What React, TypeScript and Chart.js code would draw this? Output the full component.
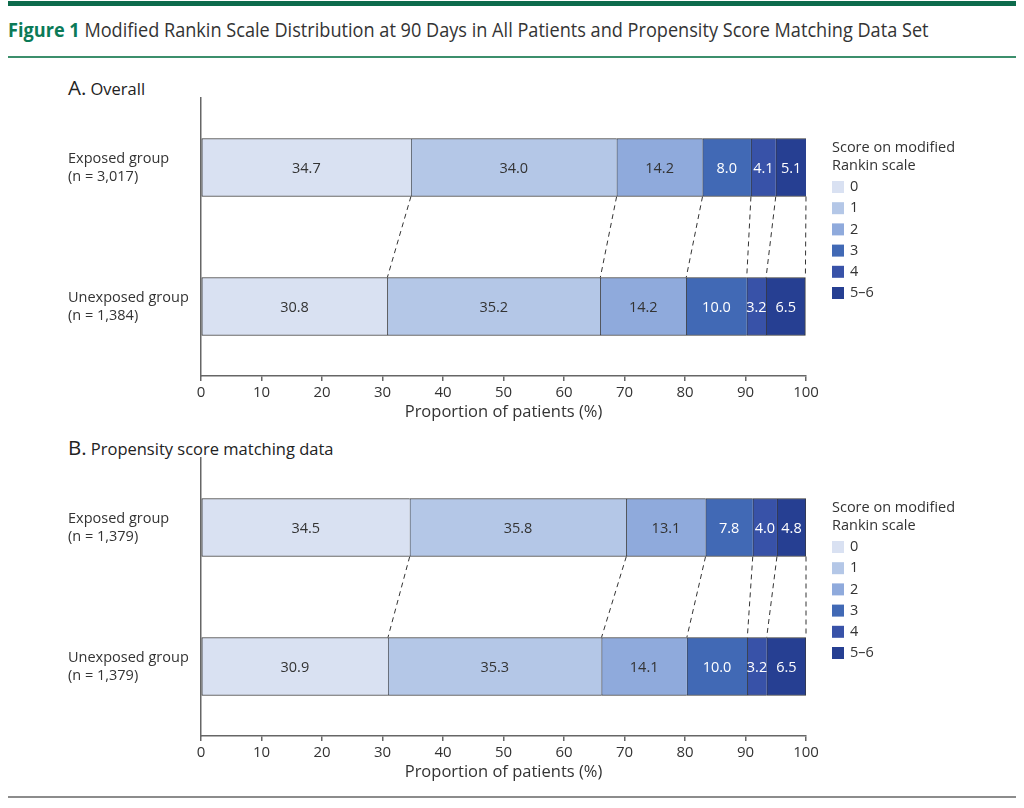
import React, { useEffect, useRef } from "react";
import { Chart, registerables } from "chart.js";

Chart.register(...registerables);

const FONT = "'Open Sans', 'Noto Sans', sans-serif";

const SCORE_LABELS = ["0", "1", "2", "3", "4", "5–6"];
const SCORE_COLORS = ["#d9e1f2", "#b4c7e7", "#8faadc", "#4169b5", "#3852a8", "#263f92"];
const VALUE_TEXT_COLORS = ["#333333", "#333333", "#333333", "#ffffff", "#ffffff", "#ffffff"];
const X_TICKS = [0, 10, 20, 30, 40, 50, 60, 70, 80, 90, 100];

const GROUPS_A = [
  ["Exposed group", "(n = 3,017)"],
  ["Unexposed group", "(n = 1,384)"],
];
const EXPOSED_A = [34.7, 34.0, 14.2, 8.0, 4.1, 5.1];
const UNEXPOSED_A = [30.8, 35.2, 14.2, 10.0, 3.2, 6.5];

const GROUPS_B = [
  ["Exposed group", "(n = 1,379)"],
  ["Unexposed group", "(n = 1,379)"],
];
const EXPOSED_B = [34.5, 35.8, 13.1, 7.8, 4.0, 4.8];
const UNEXPOSED_B = [30.9, 35.3, 14.1, 10.0, 3.2, 6.5];

const valueLabelPlugin = {
  id: "valueLabels",
  afterDatasetsDraw(chart: any) {
    const ctx = chart.ctx;
    ctx.save();
    ctx.font = `14.5px ${FONT}`;
    ctx.textAlign = "center";
    ctx.textBaseline = "middle";
    chart.data.datasets.forEach((ds: any, i: number) => {
      const meta = chart.getDatasetMeta(i);
      meta.data.forEach((bar: any, j: number) => {
        const p = bar.getProps(["x", "y", "base"], true);
        ctx.fillStyle = VALUE_TEXT_COLORS[i];
        ctx.fillText(Number(ds.data[j]).toFixed(1), (p.x + p.base) / 2, p.y + 1);
      });
    });
    ctx.restore();
  },
};

const connectorPlugin = {
  id: "connectors",
  afterDatasetsDraw(chart: any) {
    const ctx = chart.ctx;
    ctx.save();
    ctx.strokeStyle = "#333333";
    ctx.lineWidth = 1;
    ctx.setLineDash([5, 4]);
    chart.data.datasets.forEach((_ds: any, i: number) => {
      const meta = chart.getDatasetMeta(i);
      const top = meta.data[0].getProps(["x", "y", "height"], true);
      const bot = meta.data[1].getProps(["x", "y", "height"], true);
      const right = chart.chartArea.right;
      ctx.beginPath();
      ctx.moveTo(Math.min(top.x, right), top.y + top.height / 2);
      ctx.lineTo(Math.min(bot.x, right), bot.y - bot.height / 2);
      ctx.stroke();
    });
    ctx.restore();
  },
};

const legendPlugin = {
  id: "sideLegend",
  afterDraw(chart: any) {
    const ctx = chart.ctx;
    ctx.save();
    ctx.font = `14.5px ${FONT}`;
    ctx.fillStyle = "#333333";
    ctx.textAlign = "left";
    ctx.textBaseline = "middle";
    const x = 832;
    ctx.fillText("Score on modified", x, 58);
    ctx.fillText("Rankin scale", x, 76);
    chart.data.datasets.forEach((ds: any, i: number) => {
      const y = 97 + i * 21.2;
      ctx.fillStyle = ds.backgroundColor;
      ctx.fillRect(x, y - 6, 12, 12);
      ctx.fillStyle = "#333333";
      ctx.fillText(ds.label, x + 18, y);
    });
    ctx.restore();
  },
};

function Panel({ top, groups, exposed, unexposed }: { top: number; groups: string[][]; exposed: number[]; unexposed: number[] }) {
  const ref = useRef<HTMLCanvasElement | null>(null);
  useEffect(() => {
    if (!ref.current) return;
    const chart = new Chart(ref.current, {
      type: "bar",
      data: {
        labels: groups as any,
        datasets: SCORE_LABELS.map((s, i) => ({
          label: s,
          data: [exposed[i], unexposed[i]],
          backgroundColor: SCORE_COLORS[i],
          borderColor: "#3a3a3a",
          borderWidth: { top: 1, bottom: 1, left: 1, right: i === SCORE_LABELS.length - 1 ? 1 : 0 },
          borderSkipped: false,
          barThickness: 58,
        })),
      },
      options: {
        indexAxis: "y",
        animation: false,
        responsive: false,
        maintainAspectRatio: false,
        devicePixelRatio: 1,
        layout: { padding: { left: 68, top: 8, right: 218, bottom: 0 } },
        plugins: {
          legend: { display: false },
          tooltip: { enabled: false },
        },
        scales: {
          x: {
            type: "linear",
            min: 0,
            max: 100,
            stacked: true,
            afterBuildTicks: (s: any) => {
              s.ticks = X_TICKS.map((v) => ({ value: v }));
            },
            afterFit: (s: any) => {
              s.height = 54;
            },
            ticks: {
              autoSkip: false,
              maxRotation: 0,
              padding: 3,
              color: "#333333",
              font: { family: FONT, size: 15 },
            },
            grid: { drawOnChartArea: false, drawTicks: true, tickLength: 5, color: "#666666", lineWidth: 1.5 },
            border: { display: true, color: "#666666", width: 1.5 },
            title: {
              display: true,
              text: "Proportion of patients (%)",
              color: "#333333",
              font: { family: FONT, size: 16.5 },
              padding: { top: 0, bottom: 8 },
            },
          },
          y: {
            type: "category",
            stacked: true,
            afterFit: (s: any) => {
              s.width = 133;
              s.paddingTop = 0;
              s.paddingBottom = 0;
            },
            ticks: {
              crossAlign: "far",
              color: "#333333",
              font: { family: FONT, size: 14.5, lineHeight: 1.25 },
            },
            grid: { display: false },
            border: { display: true, color: "#666666", width: 1.5 },
          },
        },
      } as any,
      plugins: [connectorPlugin, valueLabelPlugin, legendPlugin],
    });
    return () => chart.destroy();
  }, []);
  return (
    <canvas
      ref={ref}
      width={1024}
      height={340}
      style={{ position: "absolute", left: 0, top, width: 1024, height: 340 }}
    />
  );
}

export default function App() {
  useEffect(() => {
    document.body.style.margin = "0";
  }, []);
  const line = (top: number, height: number, color: string) => (
    <div style={{ position: "absolute", left: 8, top, width: 1008, height, background: color }} />
  );
  return (
    <div style={{ position: "relative", width: 1024, height: 808, background: "#ffffff", fontFamily: FONT, overflow: "hidden" }}>
      {line(1, 5, "#0d6b4c")}
      <div
        style={{
          position: "absolute",
          left: 8,
          top: 16,
          fontSize: 19.5,
          lineHeight: "28px",
          color: "#333333",
          whiteSpace: "nowrap",
          transform: "scaleX(0.93)",
          transformOrigin: "left center",
        }}
      >
        <span style={{ color: "#0b7a57", fontWeight: 700 }}>Figure 1</span> Modified Rankin Scale Distribution at 90 Days in
        All Patients and Propensity Score Matching Data Set
      </div>
      {line(56, 1.5, "#3c8f6c")}
      <div style={{ position: "absolute", left: 68, top: 73, lineHeight: "28px", color: "#222222", whiteSpace: "nowrap" }}>
        <span style={{ fontSize: 20.5 }}>A.</span> <span style={{ fontSize: 16.5 }}>Overall</span>
      </div>
      <Panel top={90} groups={GROUPS_A} exposed={EXPOSED_A} unexposed={UNEXPOSED_A} />
      <div style={{ position: "absolute", left: 68, top: 433, lineHeight: "28px", color: "#222222", whiteSpace: "nowrap" }}>
        <span style={{ fontSize: 20.5 }}>B.</span> <span style={{ fontSize: 16.5 }}>Propensity score matching data</span>
      </div>
      <Panel top={450} groups={GROUPS_B} exposed={EXPOSED_B} unexposed={UNEXPOSED_B} />
      {line(796, 2, "#8c8c8c")}
    </div>
  );
}
